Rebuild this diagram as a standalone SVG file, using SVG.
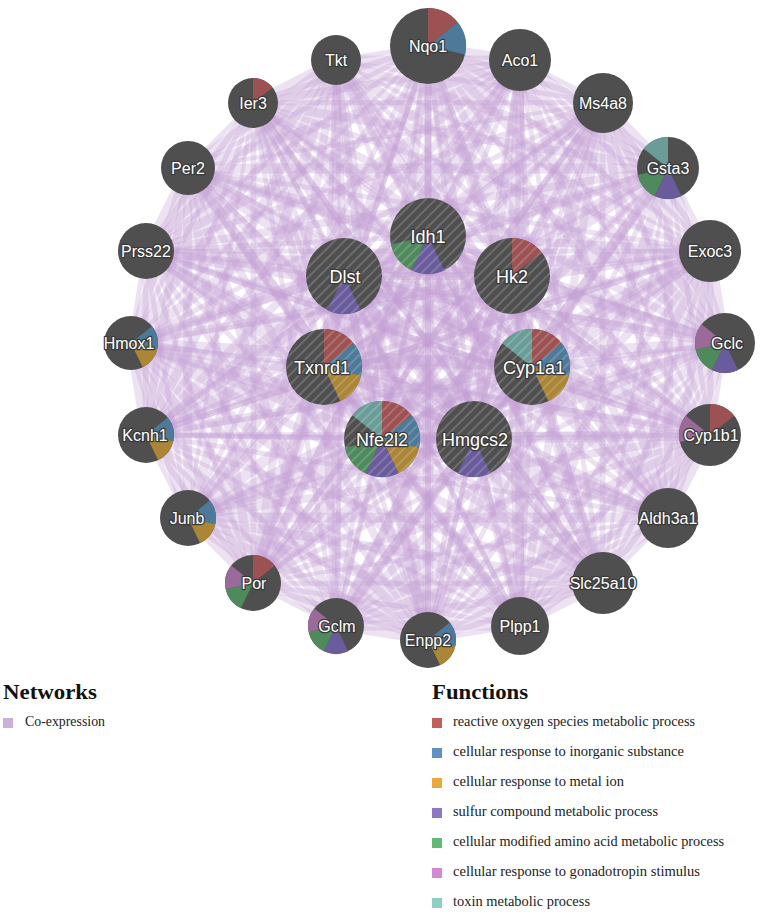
<svg xmlns="http://www.w3.org/2000/svg" xmlns:xlink="http://www.w3.org/1999/xlink" width="765" height="914" viewBox="0 0 765 914">
<style>
.bg{fill:#ffffff}
.nd{fill:#4f4f4f}
.r{fill:#9c5252}.b{fill:#4e7a9a}.o{fill:#aa8636}.p{fill:#6a5c9c}.g{fill:#4e8a5c}.k{fill:#9a6a9a}.t{fill:#6a9d97}
.hatch{fill:url(#hatch)}
.lbl{font-family:"Liberation Sans",Arial,sans-serif;font-size:16px;fill:#ffffff;stroke:#3a3a3a;stroke-width:2.6px;paint-order:stroke;stroke-linejoin:round;text-anchor:middle}
.big{font-size:18px}
.ttl{font-family:"Liberation Serif","Times New Roman",serif;font-weight:bold;font-size:20px;fill:#111}
.itm{font-family:"Liberation Serif","Times New Roman",serif;font-size:14px;fill:#222}
.w3{stroke-width:5}.w5{stroke-width:8}.w7{stroke-width:11}
</style>
<defs>
<pattern id="hatch" patternUnits="userSpaceOnUse" width="7" height="7" patternTransform="rotate(45)">
<rect x="0" y="0" width="2" height="7" fill="#ffffff" fill-opacity="0.17"/>
</pattern>
<path id="s0" d="M0 0L0 -1A1 1 0 0 1 .7818 -.6235Z"/>
<path id="s1" d="M0 0L.7818 -.6235A1 1 0 0 1 .9749 .2225Z"/>
<path id="s2" d="M0 0L.9749 .2225A1 1 0 0 1 .4339 .901Z"/>
<path id="s3" d="M0 0L.4339 .901A1 1 0 0 1 -.4339 .901Z"/>
<path id="s4" d="M0 0L-.4339 .901A1 1 0 0 1 -.9749 .2225Z"/>
<path id="s5" d="M0 0L-.9749 .2225A1 1 0 0 1 -.7818 -.6235Z"/>
<path id="s6" d="M0 0L-.7818 -.6235A1 1 0 0 1 0 -1Z"/>
<g id="chA">
<path d="M428 46L519.8 60.5" stroke-width="9"/>
<path d="M428 46L602.6 102.7" stroke-width="6"/>
<path d="M428 46L668.3 168.4" stroke-width="8"/>
<path d="M428 46L710.5 251.2" stroke-width="5"/>
<path d="M428 46L725 343" stroke-width="9"/>
<path d="M428 46L710.5 434.8" stroke-width="6"/>
<path d="M428 46L668.3 517.6" stroke-width="8"/>
<path d="M428 46L602.6 583.3" stroke-width="5"/>
<path d="M428 46L519.8 625.5" stroke-width="10"/>
<path d="M428 46L428 640" stroke-width="6"/>
</g>
<g id="chB">
<path d="M428 46L519.8 60.5" stroke-width="5"/>
<path d="M428 46L602.6 102.7" stroke-width="10"/>
<path d="M428 46L668.3 168.4" stroke-width="5"/>
<path d="M428 46L710.5 251.2" stroke-width="9"/>
<path d="M428 46L725 343" stroke-width="4"/>
<path d="M428 46L710.5 434.8" stroke-width="10"/>
<path d="M428 46L668.3 517.6" stroke-width="5"/>
<path d="M428 46L602.6 583.3" stroke-width="9"/>
<path d="M428 46L519.8 625.5" stroke-width="5"/>
</g>
</defs>
<rect class="bg" x="0" y="0" width="765" height="914"/>

<g id="edges" fill="none" stroke="#c3a0d4" stroke-opacity="0.3" stroke-linecap="round">
<use href="#chA"/>
<use href="#chB" transform="rotate(18 428 343)"/>
<use href="#chA" transform="rotate(36 428 343)"/>
<use href="#chB" transform="rotate(54 428 343)"/>
<use href="#chA" transform="rotate(72 428 343)"/>
<use href="#chB" transform="rotate(90 428 343)"/>
<use href="#chA" transform="rotate(108 428 343)"/>
<use href="#chB" transform="rotate(126 428 343)"/>
<use href="#chA" transform="rotate(144 428 343)"/>
<use href="#chB" transform="rotate(162 428 343)"/>
<use href="#chA" transform="rotate(180 428 343)"/>
<use href="#chB" transform="rotate(198 428 343)"/>
<use href="#chA" transform="rotate(216 428 343)"/>
<use href="#chB" transform="rotate(234 428 343)"/>
<use href="#chA" transform="rotate(252 428 343)"/>
<use href="#chB" transform="rotate(270 428 343)"/>
<use href="#chA" transform="rotate(288 428 343)"/>
<use href="#chB" transform="rotate(306 428 343)"/>
<use href="#chA" transform="rotate(324 428 343)"/>
<use href="#chB" transform="rotate(342 428 343)"/>
<!-- Idh1 -->
<path class="w5" d="M428 236L428 46"/><path class="w3" d="M428 236L520 60"/><path class="w7" d="M428 236L603 103"/><path class="w3" d="M428 236L668 168"/><path class="w5" d="M428 236L710 251"/><path class="w3" d="M428 236L725 343"/><path class="w7" d="M428 236L710 435"/><path class="w3" d="M428 236L668 518"/><path class="w5" d="M428 236L603 583"/><path class="w3" d="M428 236L520 626"/><path class="w7" d="M428 236L428 640"/><path class="w3" d="M428 236L336 626"/><path class="w5" d="M428 236L253 583"/><path class="w3" d="M428 236L188 518"/><path class="w7" d="M428 236L146 435"/><path class="w5" d="M428 236L131 343"/><path class="w3" d="M428 236L146 251"/><path class="w5" d="M428 236L188 168"/><path class="w3" d="M428 236L253 103"/><path class="w7" d="M428 236L336 60"/>
<!-- Hk2 -->
<path class="w3" d="M512 276L428 46"/><path class="w7" d="M512 276L520 60"/><path class="w3" d="M512 276L603 103"/><path class="w5" d="M512 276L668 168"/><path class="w3" d="M512 276L710 251"/><path class="w7" d="M512 276L725 343"/><path class="w3" d="M512 276L710 435"/><path class="w5" d="M512 276L668 518"/><path class="w3" d="M512 276L603 583"/><path class="w7" d="M512 276L520 626"/><path class="w3" d="M512 276L428 640"/><path class="w5" d="M512 276L336 626"/><path class="w3" d="M512 276L253 583"/><path class="w7" d="M512 276L188 518"/><path class="w3" d="M512 276L146 435"/><path class="w5" d="M512 276L131 343"/><path class="w7" d="M512 276L146 251"/><path class="w3" d="M512 276L188 168"/><path class="w5" d="M512 276L253 103"/><path class="w3" d="M512 276L336 60"/>
<!-- Cyp1a1 -->
<path class="w7" d="M532 367L428 46"/><path class="w3" d="M532 367L520 60"/><path class="w5" d="M532 367L603 103"/><path class="w3" d="M532 367L668 168"/><path class="w7" d="M532 367L710 251"/><path class="w3" d="M532 367L725 343"/><path class="w5" d="M532 367L710 435"/><path class="w3" d="M532 367L668 518"/><path class="w7" d="M532 367L603 583"/><path class="w3" d="M532 367L520 626"/><path class="w5" d="M532 367L428 640"/><path class="w3" d="M532 367L336 626"/><path class="w7" d="M532 367L253 583"/><path class="w3" d="M532 367L188 518"/><path class="w5" d="M532 367L146 435"/><path class="w7" d="M532 367L131 343"/><path class="w3" d="M532 367L146 251"/><path class="w7" d="M532 367L188 168"/><path class="w3" d="M532 367L253 103"/><path class="w5" d="M532 367L336 60"/>
<!-- Hmgcs2 -->
<path class="w3" d="M474 439L428 46"/><path class="w5" d="M474 439L520 60"/><path class="w3" d="M474 439L603 103"/><path class="w7" d="M474 439L668 168"/><path class="w3" d="M474 439L710 251"/><path class="w5" d="M474 439L725 343"/><path class="w3" d="M474 439L710 435"/><path class="w7" d="M474 439L668 518"/><path class="w3" d="M474 439L603 583"/><path class="w5" d="M474 439L520 626"/><path class="w3" d="M474 439L428 640"/><path class="w7" d="M474 439L336 626"/><path class="w3" d="M474 439L253 583"/><path class="w5" d="M474 439L188 518"/><path class="w3" d="M474 439L146 435"/><path class="w7" d="M474 439L131 343"/><path class="w5" d="M474 439L146 251"/><path class="w3" d="M474 439L188 168"/><path class="w7" d="M474 439L253 103"/><path class="w3" d="M474 439L336 60"/>
<!-- Nfe2l2 -->
<path class="w5" d="M382 439L428 46"/><path class="w3" d="M382 439L520 60"/><path class="w7" d="M382 439L603 103"/><path class="w3" d="M382 439L668 168"/><path class="w5" d="M382 439L710 251"/><path class="w3" d="M382 439L725 343"/><path class="w7" d="M382 439L710 435"/><path class="w3" d="M382 439L668 518"/><path class="w5" d="M382 439L603 583"/><path class="w3" d="M382 439L520 626"/><path class="w7" d="M382 439L428 640"/><path class="w3" d="M382 439L336 626"/><path class="w5" d="M382 439L253 583"/><path class="w7" d="M382 439L188 518"/><path class="w3" d="M382 439L146 435"/><path class="w5" d="M382 439L131 343"/><path class="w3" d="M382 439L146 251"/><path class="w7" d="M382 439L188 168"/><path class="w3" d="M382 439L253 103"/><path class="w5" d="M382 439L336 60"/>
<!-- Txnrd1 -->
<path class="w3" d="M324 367L428 46"/><path class="w7" d="M324 367L520 60"/><path class="w3" d="M324 367L603 103"/><path class="w5" d="M324 367L668 168"/><path class="w3" d="M324 367L710 251"/><path class="w7" d="M324 367L725 343"/><path class="w3" d="M324 367L710 435"/><path class="w5" d="M324 367L668 518"/><path class="w3" d="M324 367L603 583"/><path class="w7" d="M324 367L520 626"/><path class="w3" d="M324 367L428 640"/><path class="w5" d="M324 367L336 626"/><path class="w7" d="M324 367L253 583"/><path class="w3" d="M324 367L188 518"/><path class="w5" d="M324 367L146 435"/><path class="w3" d="M324 367L131 343"/><path class="w7" d="M324 367L146 251"/><path class="w3" d="M324 367L188 168"/><path class="w5" d="M324 367L253 103"/><path class="w3" d="M324 367L336 60"/>
<!-- Dlst -->
<path class="w7" d="M344 276L428 46"/><path class="w3" d="M344 276L520 60"/><path class="w5" d="M344 276L603 103"/><path class="w3" d="M344 276L668 168"/><path class="w7" d="M344 276L710 251"/><path class="w3" d="M344 276L725 343"/><path class="w5" d="M344 276L710 435"/><path class="w3" d="M344 276L668 518"/><path class="w7" d="M344 276L603 583"/><path class="w3" d="M344 276L520 626"/><path class="w5" d="M344 276L428 640"/><path class="w3" d="M344 276L336 626"/><path class="w7" d="M344 276L253 583"/><path class="w3" d="M344 276L188 518"/><path class="w5" d="M344 276L146 435"/><path class="w3" d="M344 276L131 343"/><path class="w5" d="M344 276L146 251"/><path class="w7" d="M344 276L188 168"/><path class="w3" d="M344 276L253 103"/><path class="w5" d="M344 276L336 60"/>
<!-- inner-inner -->
<path class="w5" d="M428 236L512 276"/><path class="w3" d="M428 236L532 367"/><path class="w7" d="M428 236L474 439"/><path class="w3" d="M428 236L382 439"/><path class="w5" d="M428 236L324 367"/><path class="w3" d="M428 236L344 276"/>
<path class="w7" d="M512 276L532 367"/><path class="w3" d="M512 276L474 439"/><path class="w5" d="M512 276L382 439"/><path class="w3" d="M512 276L324 367"/><path class="w5" d="M512 276L344 276"/>
<path class="w3" d="M532 367L474 439"/><path class="w7" d="M532 367L382 439"/><path class="w3" d="M532 367L324 367"/><path class="w5" d="M532 367L344 276"/>
<path class="w5" d="M474 439L382 439"/><path class="w3" d="M474 439L324 367"/><path class="w7" d="M474 439L344 276"/>
<path class="w3" d="M382 439L324 367"/><path class="w5" d="M382 439L344 276"/>
<path class="w7" d="M324 367L344 276"/>
</g>

<g id="nodes">
<g id="n-Nqo1"><circle class="nd" cx="428" cy="46" r="38"/><use href="#s0" class="r" transform="translate(428 46) scale(38)"/><use href="#s1" class="b" transform="translate(428 46) scale(38)"/><text class="lbl" x="428" y="51.5">Nqo1</text></g>
<g id="n-Aco1"><circle class="nd" cx="520" cy="60" r="31"/><text class="lbl" x="520" y="65.5">Aco1</text></g>
<g id="n-Ms4a8"><circle class="nd" cx="603" cy="103" r="30"/><text class="lbl" x="603" y="108.5">Ms4a8</text></g>
<g id="n-Gsta3"><circle class="nd" cx="668" cy="168" r="31"/><use href="#s3" class="p" transform="translate(668 168) scale(31)"/><use href="#s4" class="g" transform="translate(668 168) scale(31)"/><use href="#s6" class="t" transform="translate(668 168) scale(31)"/><text class="lbl" x="668" y="173.5">Gsta3</text></g>
<g id="n-Exoc3"><circle class="nd" cx="710" cy="251" r="31"/><text class="lbl" x="710" y="256.5">Exoc3</text></g>
<g id="n-Gclc"><circle class="nd" cx="725" cy="343" r="30"/><use href="#s3" class="p" transform="translate(725 343) scale(30)"/><use href="#s4" class="g" transform="translate(725 343) scale(30)"/><use href="#s5" class="k" transform="translate(725 343) scale(30)"/><text class="lbl" x="727" y="348.5">Gclc</text></g>
<g id="n-Cyp1b1"><circle class="nd" cx="710" cy="435" r="31"/><use href="#s0" class="r" transform="translate(710 435) scale(31)"/><use href="#s5" class="k" transform="translate(710 435) scale(31)"/><text class="lbl" x="711" y="440.5">Cyp1b1</text></g>
<g id="n-Aldh3a1"><circle class="nd" cx="668" cy="518" r="30"/><text class="lbl" x="668" y="523.5">Aldh3a1</text></g>
<g id="n-Slc25a10"><circle class="nd" cx="603" cy="583" r="31"/><text class="lbl" x="603" y="588.5">Slc25a10</text></g>
<g id="n-Plpp1"><circle class="nd" cx="520" cy="626" r="29"/><text class="lbl" x="520" y="631.5">Plpp1</text></g>
<g id="n-Enpp2"><circle class="nd" cx="428" cy="640" r="28"/><use href="#s1" class="b" transform="translate(428 640) scale(28)"/><use href="#s2" class="o" transform="translate(428 640) scale(28)"/><text class="lbl" x="428" y="645.5">Enpp2</text></g>
<g id="n-Gclm"><circle class="nd" cx="336" cy="626" r="28"/><use href="#s3" class="p" transform="translate(336 626) scale(28)"/><use href="#s4" class="g" transform="translate(336 626) scale(28)"/><use href="#s5" class="k" transform="translate(336 626) scale(28)"/><text class="lbl" x="337" y="631.5">Gclm</text></g>
<g id="n-Por"><circle class="nd" cx="253" cy="583" r="28"/><use href="#s0" class="r" transform="translate(253 583) scale(28)"/><use href="#s4" class="g" transform="translate(253 583) scale(28)"/><use href="#s5" class="k" transform="translate(253 583) scale(28)"/><text class="lbl" x="254" y="588.5">Por</text></g>
<g id="n-Junb"><circle class="nd" cx="188" cy="518" r="28"/><use href="#s1" class="b" transform="translate(188 518) scale(28)"/><use href="#s2" class="o" transform="translate(188 518) scale(28)"/><text class="lbl" x="187" y="523.5">Junb</text></g>
<g id="n-Kcnh1"><circle class="nd" cx="146" cy="435" r="28"/><use href="#s1" class="b" transform="translate(146 435) scale(28)"/><use href="#s2" class="o" transform="translate(146 435) scale(28)"/><text class="lbl" x="145" y="440.5">Kcnh1</text></g>
<g id="n-Hmox1"><circle class="nd" cx="131" cy="343" r="27"/><use href="#s1" class="b" transform="translate(131 343) scale(27)"/><use href="#s2" class="o" transform="translate(131 343) scale(27)"/><text class="lbl" x="129" y="348.5">Hmox1</text></g>
<g id="n-Prss22"><circle class="nd" cx="146" cy="251" r="28"/><text class="lbl" x="146" y="256.5">Prss22</text></g>
<g id="n-Per2"><circle class="nd" cx="188" cy="168" r="27"/><text class="lbl" x="188" y="173.5">Per2</text></g>
<g id="n-Ier3"><circle class="nd" cx="253" cy="103" r="25"/><use href="#s0" class="r" transform="translate(253 103) scale(25)"/><text class="lbl" x="253" y="108.5">Ier3</text></g>
<g id="n-Tkt"><circle class="nd" cx="336" cy="60" r="25"/><text class="lbl" x="336" y="65.5">Tkt</text></g>

<g id="n-Idh1"><circle class="nd" cx="428" cy="236" r="38"/><use href="#s3" class="p" transform="translate(428 236) scale(38)"/><use href="#s4" class="g" transform="translate(428 236) scale(38)"/><circle class="hatch" cx="428" cy="236" r="38"/><text class="lbl big" x="428" y="242.5">Idh1</text></g>
<g id="n-Hk2"><circle class="nd" cx="512" cy="276" r="38"/><use href="#s0" class="r" transform="translate(512 276) scale(38)"/><circle class="hatch" cx="512" cy="276" r="38"/><text class="lbl big" x="512" y="282.5">Hk2</text></g>
<g id="n-Cyp1a1"><circle class="nd" cx="532" cy="367" r="38"/><use href="#s0" class="r" transform="translate(532 367) scale(38)"/><use href="#s1" class="b" transform="translate(532 367) scale(38)"/><use href="#s2" class="o" transform="translate(532 367) scale(38)"/><use href="#s6" class="t" transform="translate(532 367) scale(38)"/><circle class="hatch" cx="532" cy="367" r="38"/><text class="lbl big" x="534" y="373.5">Cyp1a1</text></g>
<g id="n-Hmgcs2"><circle class="nd" cx="474" cy="439" r="38"/><use href="#s3" class="p" transform="translate(474 439) scale(38)"/><circle class="hatch" cx="474" cy="439" r="38"/><text class="lbl big" x="475" y="445.5">Hmgcs2</text></g>
<g id="n-Nfe2l2"><circle class="nd" cx="382" cy="439" r="38"/><use href="#s0" class="r" transform="translate(382 439) scale(38)"/><use href="#s1" class="b" transform="translate(382 439) scale(38)"/><use href="#s2" class="o" transform="translate(382 439) scale(38)"/><use href="#s3" class="p" transform="translate(382 439) scale(38)"/><use href="#s4" class="g" transform="translate(382 439) scale(38)"/><use href="#s6" class="t" transform="translate(382 439) scale(38)"/><circle class="hatch" cx="382" cy="439" r="38"/><text class="lbl big" x="382" y="445.5">Nfe2l2</text></g>
<g id="n-Txnrd1"><circle class="nd" cx="324" cy="367" r="38"/><use href="#s0" class="r" transform="translate(324 367) scale(38)"/><use href="#s1" class="b" transform="translate(324 367) scale(38)"/><use href="#s2" class="o" transform="translate(324 367) scale(38)"/><circle class="hatch" cx="324" cy="367" r="38"/><text class="lbl big" x="322" y="373.5">Txnrd1</text></g>
<g id="n-Dlst"><circle class="nd" cx="344" cy="276" r="38"/><use href="#s3" class="p" transform="translate(344 276) scale(38)"/><circle class="hatch" cx="344" cy="276" r="38"/><text class="lbl big" x="345" y="282.5">Dlst</text></g>
</g>

<g id="legend-networks">
<text class="ttl" x="3" y="699" textLength="94" lengthAdjust="spacingAndGlyphs">Networks</text>
<rect x="3" y="718" width="10" height="10" fill="#cbb0d8"/>
<text class="itm" x="25" y="726" textLength="80" lengthAdjust="spacingAndGlyphs">Co-expression</text>
</g>
<g id="legend-functions">
<text class="ttl" x="432" y="699" textLength="96" lengthAdjust="spacingAndGlyphs">Functions</text>
<rect x="432" y="718" width="10" height="10" fill="#c0605c"/>
<text class="itm" x="453" y="726" textLength="242" lengthAdjust="spacingAndGlyphs">reactive oxygen species metabolic process</text>
<rect x="432" y="748" width="10" height="10" fill="#5c93c4"/>
<text class="itm" x="453" y="756" textLength="231" lengthAdjust="spacingAndGlyphs">cellular response to inorganic substance</text>
<rect x="432" y="778" width="10" height="10" fill="#e8a93a"/>
<text class="itm" x="453" y="786" textLength="171" lengthAdjust="spacingAndGlyphs">cellular response to metal ion</text>
<rect x="432" y="808" width="10" height="10" fill="#8e78c6"/>
<text class="itm" x="453" y="816" textLength="205" lengthAdjust="spacingAndGlyphs">sulfur compound metabolic process</text>
<rect x="432" y="838" width="10" height="10" fill="#62b877"/>
<text class="itm" x="453" y="846" textLength="271" lengthAdjust="spacingAndGlyphs">cellular modified amino acid metabolic process</text>
<rect x="432" y="868" width="10" height="10" fill="#d388d3"/>
<text class="itm" x="453" y="876" textLength="247" lengthAdjust="spacingAndGlyphs">cellular response to gonadotropin stimulus</text>
<rect x="432" y="898" width="10" height="10" fill="#8fcfc3"/>
<text class="itm" x="453" y="906" textLength="137" lengthAdjust="spacingAndGlyphs">toxin metabolic process</text>
</g>
</svg>
